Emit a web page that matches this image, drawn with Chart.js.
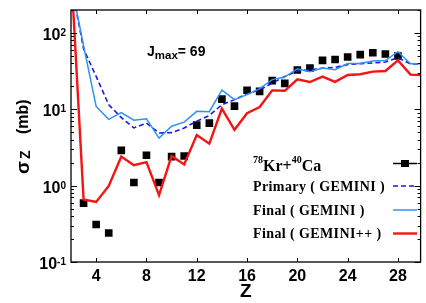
<!DOCTYPE html>
<html>
<head>
<meta charset="utf-8">
<script src="https://cdn.jsdelivr.net/npm/chart.js@4.4.1/dist/chart.umd.min.js"></script>
<style>
  html, body { margin: 0; padding: 0; background: #fff; overflow: hidden; }
  canvas { display: block; }
</style>
</head>
<body>
<canvas id="zChart" width="426" height="303"></canvas>
<script>
// model curves, one value per Z
const zModel = [2, 3, 4, 5, 6, 7, 8, 9, 10, 11, 12, 13, 14, 15, 16, 17, 18, 19, 20, 21, 22, 23, 24, 25, 26, 27, 28, 29, 30];
const primaryGemini = [450, 62, 27, 11.5, 7.8, 5.7, 6.6, 4.9, 4.95, 5.7, 7.0, 8.3, 11.5, 13.4, 16, 18, 22, 27, 31.7, 33, 34.5, 35.5, 38.5, 39.7, 40.5, 41.6, 47.5, 39.2, 39.2];
const finalGemini = [455, 68, 10.9, 7.4, 9.05, 7.2, 7.5, 4.2, 6.0, 6.8, 9.4, 9.3, 17.8, 13.4, 15.6, 18.7, 24.5, 26.5, 34, 31, 34.7, 33, 39.7, 39.7, 43, 43.5, 57, 39.6, 39.6];
const finalGeminiPP = [700, 0.66, 0.61, 0.99, 2.4, 1.85, 2.03, 0.75, 2.45, 1.9, 4.6, 3.55, 10.2, 5.4, 8.9, 10.7, 17.7, 17.5, 24.7, 22.8, 26.8, 22.9, 28.2, 28.8, 31.2, 31.8, 43.8, 28.5, 28];

// measured points
const zExp = [3, 4, 5, 6, 7, 8, 9, 10, 11, 12, 13, 14, 15, 16, 17, 18, 19, 20, 21, 22, 23, 24, 25, 26, 27, 28];
const sigmaExp = [0.59, 0.31, 0.24, 2.9, 1.1, 2.5, 1.1, 2.4, 2.45, 6.2, 6.6, 13.6, 11, 17.8, 17.2, 23.8, 21.9, 32.7, 34.7, 43.7, 45, 48.5, 52, 55, 53, 50];

const xTickValues = [4, 8, 12, 16, 20, 24, 28];
const yTickValues = [0.1, 1, 10, 100];
const seriesLabels = ['78Kr+40Ca', 'Primary ( GEMINI )', 'Final ( GEMINI )', 'Final ( GEMINI++ )'];

const SANS = '"Liberation Sans", Arial, sans-serif';
const SERIF = '"Liberation Serif", "Times New Roman", serif';

const toPoints = (xs, ys) => xs.map((x, i) => ({ x: x, y: ys[i] }));

// draw pieces of text one after another, returns end x
function drawRuns(ctx, x, baseline, runs) {
  runs.forEach(r => {
    ctx.font = r.font;
    ctx.fillText(r.text, x, baseline + (r.dy || 0));
    x += ctx.measureText(r.text).width;
  });
  return x;
}

const decorPlugin = {
  id: 'decor',
  afterDraw(chart) {
    const { ctx, chartArea: a, scales } = chart;
    const xs = scales.x, ys = scales.y;
    const ds = chart.data.datasets;
    ctx.save();

    // frame
    ctx.strokeStyle = '#000';
    ctx.lineWidth = 1.3;
    ctx.strokeRect(a.left, a.top, a.right - a.left, a.bottom - a.top);

    // inward ticks
    ctx.lineWidth = 1;
    ctx.beginPath();
    xTickValues.forEach(v => {
      const px = Math.round(xs.getPixelForValue(v)) + 0.5;
      ctx.moveTo(px, a.bottom); ctx.lineTo(px, a.bottom - 4);
      ctx.moveTo(px, a.top); ctx.lineTo(px, a.top + 4);
    });
    for (let e = -1; e <= 2; e++) {
      for (let m = 1; m <= 9; m++) {
        const v = m * Math.pow(10, e);
        if (v < ys.min * 0.999 || v > ys.max * 1.001) continue;
        const py = Math.round(ys.getPixelForValue(v)) + 0.5;
        const len = m === 1 ? 6 : 3;
        ctx.moveTo(a.left, py); ctx.lineTo(a.left + len, py);
        ctx.moveTo(a.right, py); ctx.lineTo(a.right - len, py);
      }
    }
    ctx.stroke();

    // y tick labels 10^n
    ctx.fillStyle = '#000';
    ctx.textBaseline = 'alphabetic';
    ctx.textAlign = 'right';
    yTickValues.forEach(v => {
      const py = ys.getPixelForValue(v);
      const sup = String(Math.round(Math.log10(v)));
      ctx.font = 'bold 10px ' + SANS;
      const sw = ctx.measureText(sup).width;
      ctx.fillText(sup, a.left - 5, py + 3);
      ctx.font = 'bold 16px ' + SANS;
      ctx.fillText('10', a.left - 5 - sw, py + 7);
    });

    // y axis title
    ctx.textAlign = 'left';
    ctx.save();
    ctx.translate(29, 174);
    ctx.rotate(-Math.PI / 2);
    drawRuns(ctx, 0, 0, [{ text: 'σ', font: 'bold 19px ' + SANS }]);
    drawRuns(ctx, 15, 0, [{ text: 'Z', font: 'bold 14px ' + SANS, dy: 1 }]);
    drawRuns(ctx, 40, -1, [{ text: '(mb)', font: 'bold 16px ' + SANS }]);
    ctx.restore();

    // J_max annotation
    drawRuns(ctx, 147, 56, [
      { text: 'J', font: 'bold 14px ' + SANS },
      { text: 'max', font: 'bold 11.5px ' + SANS, dy: 3 },
      { text: '= 69', font: 'bold 14px ' + SANS }
    ]);

    // legend, text on the left, line sample on the right
    const lx = 253, sx0 = 393, sx1 = 417;
    drawRuns(ctx, lx, 171, [
      { text: '78', font: 'bold 10px ' + SERIF, dy: -8 },
      { text: 'Kr+', font: 'bold 16px ' + SERIF },
      { text: '40', font: 'bold 10px ' + SERIF, dy: -8 },
      { text: 'Ca', font: 'bold 16px ' + SERIF }
    ]);
    ctx.strokeStyle = '#000';
    ctx.lineWidth = 1.5;
    ctx.beginPath(); ctx.moveTo(sx0, 163.5); ctx.lineTo(sx1, 163.5); ctx.stroke();
    ctx.fillRect(401, 160, 8, 7);

    const rows = [
      { i: 1, base: 191, ly: 186 },
      { i: 2, base: 214.5, ly: 210 },
      { i: 3, base: 237.5, ly: 233.5 }
    ];
    ctx.letterSpacing = '0.4px';
    rows.forEach(r => {
      const d = ds[r.i];
      ctx.font = 'bold 14px ' + SERIF;
      ctx.fillStyle = '#000';
      ctx.fillText(d.label, lx, r.base);
      ctx.strokeStyle = d.borderColor;
      ctx.lineWidth = d.borderWidth;
      ctx.setLineDash(d.borderDash || []);
      ctx.beginPath(); ctx.moveTo(sx0, r.ly); ctx.lineTo(sx1, r.ly); ctx.stroke();
      ctx.setLineDash([]);
    });
    ctx.letterSpacing = '0px';

    ctx.restore();
  }
};

new Chart(document.getElementById('zChart'), {
  type: 'line',
  data: {
    datasets: [
      {
        label: seriesLabels[0],
        data: toPoints(zExp, sigmaExp),
        showLine: false,
        pointStyle: 'rect',
        pointRadius: 5.4,
        pointBackgroundColor: '#000',
        pointBorderWidth: 0,
        order: 10
      },
      {
        label: seriesLabels[1],
        data: toPoints(zModel, primaryGemini),
        borderColor: '#1a1ae0',
        borderWidth: 1.6,
        borderDash: [5, 3],
        pointRadius: 0,
        order: 3
      },
      {
        label: seriesLabels[2],
        data: toPoints(zModel, finalGemini),
        borderColor: '#2f92f5',
        borderWidth: 1.5,
        pointRadius: 0,
        order: 2
      },
      {
        label: seriesLabels[3],
        data: toPoints(zModel, finalGeminiPP),
        borderColor: '#f41414',
        borderWidth: 2.4,
        pointRadius: 0,
        order: 1
      }
    ]
  },
  options: {
    responsive: false,
    animation: false,
    devicePixelRatio: 1,
    layout: { padding: { top: 10, right: 1, left: 0, bottom: 0 } },
    plugins: { legend: { display: false }, tooltip: { enabled: false } },
    scales: {
      x: {
        type: 'linear',
        min: 2,
        max: 29.8,
        afterBuildTicks: s => { s.ticks = xTickValues.map(v => ({ value: v })); },
        afterFit: s => { s.height = 41; },
        grid: { display: false, drawTicks: false },
        border: { display: false },
        ticks: {
          color: '#000',
          font: { family: SANS, size: 16, weight: 'bold' },
          padding: 5,
          maxRotation: 0,
          autoSkip: false
        },
        title: {
          display: true,
          text: 'Z',
          color: '#000',
          font: { family: SANS, size: 19, weight: 'bold' },
          padding: 0
        }
      },
      y: {
        type: 'logarithmic',
        min: 0.1,
        max: 200,
        afterBuildTicks: s => { s.ticks = yTickValues.map(v => ({ value: v })); },
        afterFit: s => { s.width = 71; },
        grid: { display: false, drawTicks: false },
        border: { display: false },
        ticks: { display: false }
      }
    }
  },
  plugins: [decorPlugin]
});
</script>
</body>
</html>
